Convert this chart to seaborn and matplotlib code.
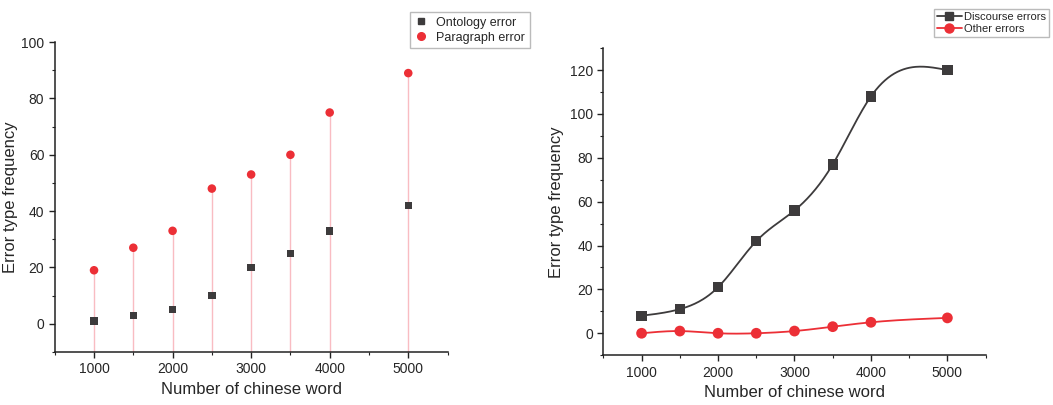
import numpy as np
import pandas as pd
import seaborn as sns
import matplotlib.pyplot as plt
from matplotlib.ticker import MultipleLocator
from matplotlib.lines import Line2D

words = [1000, 1500, 2000, 2500, 3000, 3500, 4000, 5000]
ontology = [1, 3, 5, 10, 20, 25, 33, 42]
paragraph = [19, 27, 33, 48, 53, 60, 75, 89]
discourse = [8, 11, 21, 42, 56, 77, 108, 120]
other = [0, 1, 0, 0, 1, 3, 5, 7]

dark = "#3d3b3c"
red = "#ec2f36"


def spline(x, y, n=300):
    # natural cubic spline, used only to draw the smooth connecting line
    x = np.asarray(x, float)
    y = np.asarray(y, float)
    k = len(x)
    h = np.diff(x)
    A = np.zeros((k, k))
    b = np.zeros(k)
    A[0, 0] = A[-1, -1] = 1
    for i in range(1, k - 1):
        A[i, i - 1] = h[i - 1]
        A[i, i] = 2 * (h[i - 1] + h[i])
        A[i, i + 1] = h[i]
        b[i] = 3 * ((y[i + 1] - y[i]) / h[i] - (y[i] - y[i - 1]) / h[i - 1])
    c = np.linalg.solve(A, b)
    xs = np.linspace(x[0], x[-1], n)
    idx = np.clip(np.searchsorted(x, xs) - 1, 0, k - 2)
    bb = (y[1:] - y[:-1]) / h - h * (2 * c[:-1] + c[1:]) / 3
    d = (c[1:] - c[:-1]) / (3 * h)
    t = xs - x[idx]
    ys = y[idx] + bb[idx] * t + c[idx] * t ** 2 + d[idx] * t ** 3
    return xs, ys


sns.set_style("ticks")
plt.rcParams['font.family'] = ['Liberation Sans', 'DejaVu Sans']

fig = plt.figure(figsize=(10.53, 4.05), dpi=100)
ax1 = fig.add_axes([0.052, 0.131, 0.373, 0.765])
ax2 = fig.add_axes([0.573, 0.123, 0.363, 0.758])

# left panel: drop lines + scatter
ax1.vlines(words, -10, paragraph, color="#f9bcc2", lw=1.0, zorder=1)
sns.scatterplot(x=words, y=ontology, marker="s", color=dark, s=28,
                edgecolor="none", ax=ax1, zorder=3)
sns.scatterplot(x=words, y=paragraph, marker="o", color=red, s=38,
                edgecolor="none", ax=ax1, zorder=3)
ax1.set_xlim(500, 5500)
ax1.set_ylim(-10, 100)
ax1.set_ylabel("Error type frequency", fontsize=12, labelpad=2)
ax1.set_xlabel("Number of chinese word", fontsize=12)

h1 = [Line2D([], [], ls="none", marker="s", color=dark, markersize=5),
      Line2D([], [], ls="none", marker="o", color=red, markersize=5.5)]
fig.legend(h1, ["Ontology error", "Paragraph error"], loc="upper left",
           bbox_to_anchor=(0.383, 0.985), fontsize=9, frameon=True,
           fancybox=False, edgecolor="#aaaaaa", handletextpad=0.6,
           borderpad=0.35, labelspacing=0.25, handlelength=1.2)

# right panel: smooth lines + markers
df = pd.DataFrame({"x": words, "Discourse errors": discourse, "Other errors": other})
for col, col_c, mk, ms in [("Discourse errors", dark, "s", 55), ("Other errors", red, "o", 60)]:
    xs, ys = spline(df["x"], df[col])
    sns.lineplot(x=xs, y=ys, color=col_c, lw=1.3, ax=ax2, zorder=2)
    sns.scatterplot(data=df, x="x", y=col, marker=mk, color=col_c, s=ms,
                    edgecolor="none", ax=ax2, zorder=3)
ax2.set_xlim(500, 5500)
ax2.set_ylim(-10, 130)
ax2.set_ylabel("Error type frequency", fontsize=12)
ax2.set_xlabel("Number of chinese word", fontsize=12)

h2 = [Line2D([], [], color=dark, marker="s", markersize=6, lw=1.3),
      Line2D([], [], color=red, marker="o", markersize=6.5, lw=1.3)]
fig.legend(h2, ["Discourse errors", "Other errors"], loc="upper left",
           bbox_to_anchor=(0.882, 0.992), fontsize=8, frameon=True,
           fancybox=False, edgecolor="#aaaaaa", handletextpad=0.2,
           borderpad=0.25, labelspacing=0.2, handlelength=2.2)

for ax in [ax1, ax2]:
    ax.set_xticks([1000, 2000, 3000, 4000, 5000])
    ax.xaxis.set_minor_locator(MultipleLocator(500))
    ax.yaxis.set_minor_locator(MultipleLocator(10))
    ax.tick_params(which="major", length=4, width=1, labelsize=10, color="#222222")
    ax.tick_params(which="minor", length=2.5, width=0.8, color="#222222")
    for s in ["left", "bottom"]:
        ax.spines[s].set_linewidth(1.1)
        ax.spines[s].set_color("#222222")
    sns.despine(ax=ax)

ax1.set_yticks([0, 20, 40, 60, 80, 100])
ax2.set_yticks([0, 20, 40, 60, 80, 100, 120])
ax1.set_ylim(-10, 100)
ax2.set_ylim(-10, 130)

plt.savefig("out.png", dpi=100)
